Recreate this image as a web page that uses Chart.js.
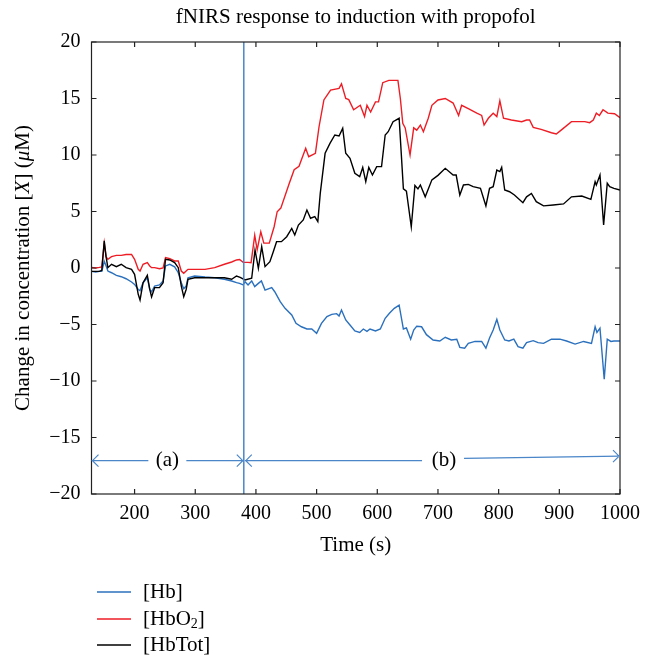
<!DOCTYPE html>
<html>
<head>
<meta charset="utf-8">
<script src="https://cdn.jsdelivr.net/npm/chart.js@4.4.1/dist/chart.umd.min.js"></script>
<style>
  html, body { margin: 0; padding: 0; background: #fff; }
  #wrap { width: 653px; height: 656px; }
</style>
</head>
<body>
<div id="wrap"><canvas id="chart" width="653" height="656"></canvas></div>
<script>
// Axis ticks
const xTicks = [200, 300, 400, 500, 600, 700, 800, 900, 1000];
const yTicks = [-20, -15, -10, -5, 0, 5, 10, 15, 20];
const xMin = 129, xMax = 1000;
const inductionTime = 380;

// [Hb]
const hbTime = [129,136,142,146,150,153,156,162,170,178,186,195,200,206,209,214,221,225,228,233,241,247,251,258,266,272,277,281,285,288,299,316,332,348,360,368,373,379,382,387,393,398,404,409,415,426,431,440,448,459,466,475,484,492,500,508,517,525,533,537,541,548,555,563,571,577,583,588,597,605,613,620,628,636,643,648,655,660,665,673,681,692,703,712,722,731,736,744,750,761,772,779,785,791,797,802,810,817,825,832,840,846,857,865,874,887,901,912,926,940,953,959,962,967,974,979,985,990,1000];
const hbValues = [-0.3,-0.35,-0.3,-0.3,0.6,0.2,-0.27,-0.42,-0.65,-0.77,-0.95,-1.24,-1.45,-1.9,-2.0,-1.3,-0.86,-1.9,-2.1,-1.6,-1.5,-1.15,0.18,0.33,0.1,-0.42,-1.3,-1.83,-1.6,-0.86,-0.71,-0.8,-0.86,-1.0,-1.15,-1.3,-1.36,-1.5,-1.21,-1.5,-1.15,-1.65,-1.36,-1.15,-1.95,-1.74,-2.1,-2.98,-3.57,-4.16,-4.9,-5.2,-5.4,-5.4,-5.78,-4.9,-4.3,-4.1,-4.04,-4.25,-3.72,-4.6,-5.05,-5.57,-5.7,-5.4,-5.6,-5.4,-5.57,-5.4,-4.45,-4.0,-3.57,-3.28,-5.4,-5.3,-6.3,-5.5,-5.15,-5.2,-5.9,-6.37,-6.46,-6.13,-6.37,-6.3,-7.02,-7.1,-6.67,-6.5,-6.5,-7.1,-6.2,-5.49,-4.55,-5.49,-6.37,-6.46,-6.3,-6.96,-7.1,-6.6,-6.43,-6.6,-6.67,-6.3,-6.3,-6.46,-6.73,-6.5,-6.67,-5.2,-5.7,-5.32,-9.85,-6.3,-6.5,-6.46,-6.46];

// [HbO2]
const hbo2Time = [129,136,142,146,150,153,156,162,170,178,186,195,200,206,209,214,221,225,228,233,241,247,251,258,266,272,277,281,285,288,299,316,332,348,360,368,373,379,387,392,398,402,408,413,422,430,435,441,455,463,471,482,487,498,504,512,523,537,541,548,553,561,572,579,583,589,597,602,609,619,634,638,642,646,654,660,665,671,676,684,690,700,712,725,734,739,750,764,772,776,783,791,797,802,808,821,838,846,851,857,870,887,895,903,920,942,950,956,961,966,972,980,991,1000];
const hbo2Values = [0.05,0.0,0.05,0.1,2.2,1.0,0.77,1.0,1.12,1.12,1.2,1.2,0.77,-0.12,-0.27,0.33,0.48,0.18,0.03,0.03,-0.07,0.0,0.92,0.83,0.62,0.62,-0.27,-0.47,-0.27,-0.12,-0.12,-0.12,0.03,0.33,0.53,0.71,0.75,0.5,0.5,0.47,2.9,1.6,3.2,2.2,2.2,3.65,4.98,5.3,7.5,8.7,9.0,10.6,9.85,10.15,12.5,14.87,15.75,15.9,16.3,15.0,14.9,14.0,14.4,13.4,14.4,13.8,14.7,14.7,16.4,16.6,16.6,15.0,12.8,12.4,10.0,12.4,12.2,12.65,12.06,13.25,14.4,14.87,15.0,14.6,13.5,14.4,14.1,13.7,13.5,12.65,13.25,13.7,13.4,14.8,13.25,13.1,12.95,13.1,13.1,12.45,12.27,11.97,11.86,12.2,12.95,12.95,12.86,13.1,13.7,13.5,14.0,13.7,13.65,13.3];

// [HbTot]
const hbTotTime = [129,136,142,146,150,153,156,162,170,178,186,195,200,206,209,214,221,225,228,233,241,247,251,258,266,272,277,281,285,288,299,316,332,348,360,368,374,382,393,398.5,404,409.5,415,423,428.6,434,442,450.7,459,464,470,478,484,490,497,502,506,514,522,530,537,543,548,555,563,571,576,581,586,592,599,607,613,618,626,636,643,648,656,662,667,671,679,690,700,712,725,730,736,742,750,758,770,779,785,791,797,802,805,810,818,826,840,846,854,862,874,890,907,920,937,952,959,961,967,973,979,983,990,1000];
const hbTotValues = [-0.3,-0.3,-0.3,-0.2,2.4,1.0,0.03,0.33,0.12,0.33,0.03,-0.12,-0.56,-2.33,-2.83,-1.3,-0.65,-1.9,-2.57,-1.74,-1.74,-1.3,0.77,0.71,0.48,0.03,-1.6,-2.54,-1.9,-1.0,-0.86,-0.86,-0.86,-0.86,-1.0,-0.71,-0.83,-1.06,-0.91,1.6,-0.03,1.88,0.12,0.56,1.44,2.33,2.33,2.77,3.5,2.92,3.8,4.25,5.13,4.4,4.54,4.1,6.6,10.15,11.03,11.77,11.68,12.36,10.15,9.7,8.38,8.08,8.9,7.64,8.9,8.23,8.97,8.97,11.77,12.06,12.95,13.25,7.0,6.8,3.65,7.3,7.0,7.35,6.3,7.8,8.2,8.82,8.23,8.23,6.46,7.35,7.4,7.2,7.05,5.5,7.05,7.2,8.67,8.53,8.9,6.9,6.75,6.46,5.78,6.3,6.6,5.87,5.5,5.58,5.67,6.3,6.37,6.08,7.64,7.35,8.23,3.8,7.5,7.2,7.05,6.9];

const BLUE = '#2a70bd';
const RED = '#ee1d25';
const BLACK = '#000000';
const MARK_BLUE = '#4a86c8';
const FONT = "'Liberation Serif', 'DejaVu Serif', serif";
const TEXT_SIZE = 21;

function toPoints(ts, vs) {
    return ts.map((t, i) => ({ x: t, y: vs[i] }));
}

// frame, inward ticks, induction line, (a)/(b) arrows, titles and legend
const decorPlugin = {
    id: 'decor',
    afterDraw(chart) {
        const ctx = chart.ctx;
        const area = chart.chartArea;
        const xs = chart.scales.x, ys = chart.scales.y;
        const font = (italic, size) => (italic ? 'italic ' : '') + (size || TEXT_SIZE) + 'px ' + FONT;
        ctx.save();

        // induction marker
        const lx = xs.getPixelForValue(inductionTime);
        ctx.strokeStyle = MARK_BLUE;
        ctx.lineWidth = 1.5;
        ctx.beginPath();
        ctx.moveTo(lx, area.top);
        ctx.lineTo(lx, area.bottom);
        ctx.stroke();

        // box and ticks
        ctx.strokeStyle = '#222';
        ctx.lineWidth = 1.2;
        ctx.strokeRect(area.left, area.top, area.right - area.left, area.bottom - area.top);
        ctx.beginPath();
        xTicks.forEach(v => {
            const px = xs.getPixelForValue(v);
            ctx.moveTo(px, area.bottom); ctx.lineTo(px, area.bottom - 5);
            ctx.moveTo(px, area.top); ctx.lineTo(px, area.top + 5);
        });
        yTicks.forEach(v => {
            const py = ys.getPixelForValue(v);
            ctx.moveTo(area.left, py); ctx.lineTo(area.left + 5, py);
            ctx.moveTo(area.right, py); ctx.lineTo(area.right - 5, py);
        });
        ctx.stroke();

        // (a) and (b) span arrows
        const ay = ys.getPixelForValue(-17.05);
        const byEnd = ys.getPixelForValue(-16.65);
        const byMid = ys.getPixelForValue(-16.85);
        const aText = xs.getPixelForValue(254);
        const bText = xs.getPixelForValue(710);
        ctx.strokeStyle = MARK_BLUE;
        ctx.lineWidth = 1.2;
        ctx.beginPath();
        ctx.moveTo(area.left, ay); ctx.lineTo(aText - 19, ay);
        ctx.moveTo(aText + 19, ay); ctx.lineTo(lx - 1, ay);
        ctx.moveTo(lx + 1, ay); ctx.lineTo(bText - 22, ay);
        ctx.moveTo(bText + 20, byMid); ctx.lineTo(area.right, byEnd);
        const head = (x, y, dir) => {
            ctx.moveTo(x - dir * 6, y - 6); ctx.lineTo(x, y); ctx.lineTo(x - dir * 6, y + 6);
        };
        head(area.left + 1, ay, -1);
        head(lx - 1, ay, 1);
        head(lx + 2, ay, -1);
        head(area.right - 1, byEnd, 1);
        ctx.stroke();

        ctx.fillStyle = '#000';
        ctx.font = font(false);
        ctx.textAlign = 'center';
        ctx.textBaseline = 'middle';
        ctx.fillText('(a)', aText, ay);
        ctx.fillText('(b)', bText, ay);

        // title and x axis title
        const cx = (area.left + area.right) / 2;
        ctx.fillText('fNIRS response to induction with propofol', cx, 17);
        ctx.fillText('Time (s)', cx, 545);

        // y axis title with italic parts
        const parts = [
            ['Change in concentration [', false],
            ['X', true],
            ['] (', false],
            ['\u03BC', true],
            ['M)', false]
        ];
        let total = 0;
        parts.forEach(p => { ctx.font = font(p[1]); total += ctx.measureText(p[0]).width; });
        ctx.translate(23, (area.top + area.bottom) / 2);
        ctx.rotate(-Math.PI / 2);
        ctx.textAlign = 'left';
        let pos = -total / 2;
        parts.forEach(p => {
            ctx.font = font(p[1]);
            ctx.fillText(p[0], pos, 0);
            pos += ctx.measureText(p[0]).width;
        });
        ctx.setTransform(1, 0, 0, 1, 0, 0);

        // legend
        const items = [
            { color: BLUE, y: 592, text: '[Hb]' },
            { color: RED, y: 619, text: '[HbO', sub: '2', tail: ']' },
            { color: BLACK, y: 645, text: '[HbTot]' }
        ];
        ctx.lineWidth = 1.5;
        items.forEach(it => {
            ctx.strokeStyle = it.color;
            ctx.beginPath();
            ctx.moveTo(97, it.y); ctx.lineTo(131, it.y);
            ctx.stroke();
            ctx.font = font(false);
            ctx.textAlign = 'left';
            ctx.fillText(it.text, 143, it.y);
            if (it.sub) {
                let x = 143 + ctx.measureText(it.text).width;
                ctx.font = font(false, 14);
                ctx.fillText(it.sub, x, it.y + 5);
                x += ctx.measureText(it.sub).width;
                ctx.font = font(false);
                ctx.fillText(it.tail, x, it.y);
            }
        });
        ctx.restore();
    }
};

const lineStyle = { borderWidth: 1.4, pointRadius: 0, tension: 0, fill: false };

new Chart(document.getElementById('chart'), {
    type: 'line',
    data: {
        datasets: [
            Object.assign({ label: '[HbTot]', data: toPoints(hbTotTime, hbTotValues), borderColor: BLACK }, lineStyle),
            Object.assign({ label: '[HbO2]', data: toPoints(hbo2Time, hbo2Values), borderColor: RED }, lineStyle),
            Object.assign({ label: '[Hb]', data: toPoints(hbTime, hbValues), borderColor: BLUE }, lineStyle)
        ]
    },
    options: {
        responsive: false,
        animation: false,
        devicePixelRatio: 1,
        layout: { padding: { top: 42, left: 0, right: 33, bottom: 0 } },
        plugins: {
            legend: { display: false },
            title: { display: false },
            tooltip: { enabled: false }
        },
        scales: {
            x: {
                type: 'linear',
                min: xMin,
                max: xMax,
                afterBuildTicks: scale => { scale.ticks = xTicks.map(v => ({ value: v })); },
                afterFit: scale => { scale.height = 162; },
                grid: { display: false, drawTicks: false },
                border: { display: false },
                ticks: {
                    color: '#000',
                    padding: 8,
                    maxRotation: 0,
                    autoSkip: false,
                    font: { family: FONT, size: 20 },
                    callback: v => String(v)
                }
            },
            y: {
                type: 'linear',
                min: -20,
                max: 20,
                afterBuildTicks: scale => { scale.ticks = yTicks.map(v => ({ value: v })); },
                afterFit: scale => { scale.width = 91.5; },
                grid: { display: false, drawTicks: false },
                border: { display: false },
                ticks: {
                    color: '#000',
                    padding: 11,
                    font: { family: FONT, size: 20 },
                    callback: v => String(v).replace('-', '\u2212')
                }
            }
        }
    },
    plugins: [decorPlugin]
});
</script>
</body>
</html>
